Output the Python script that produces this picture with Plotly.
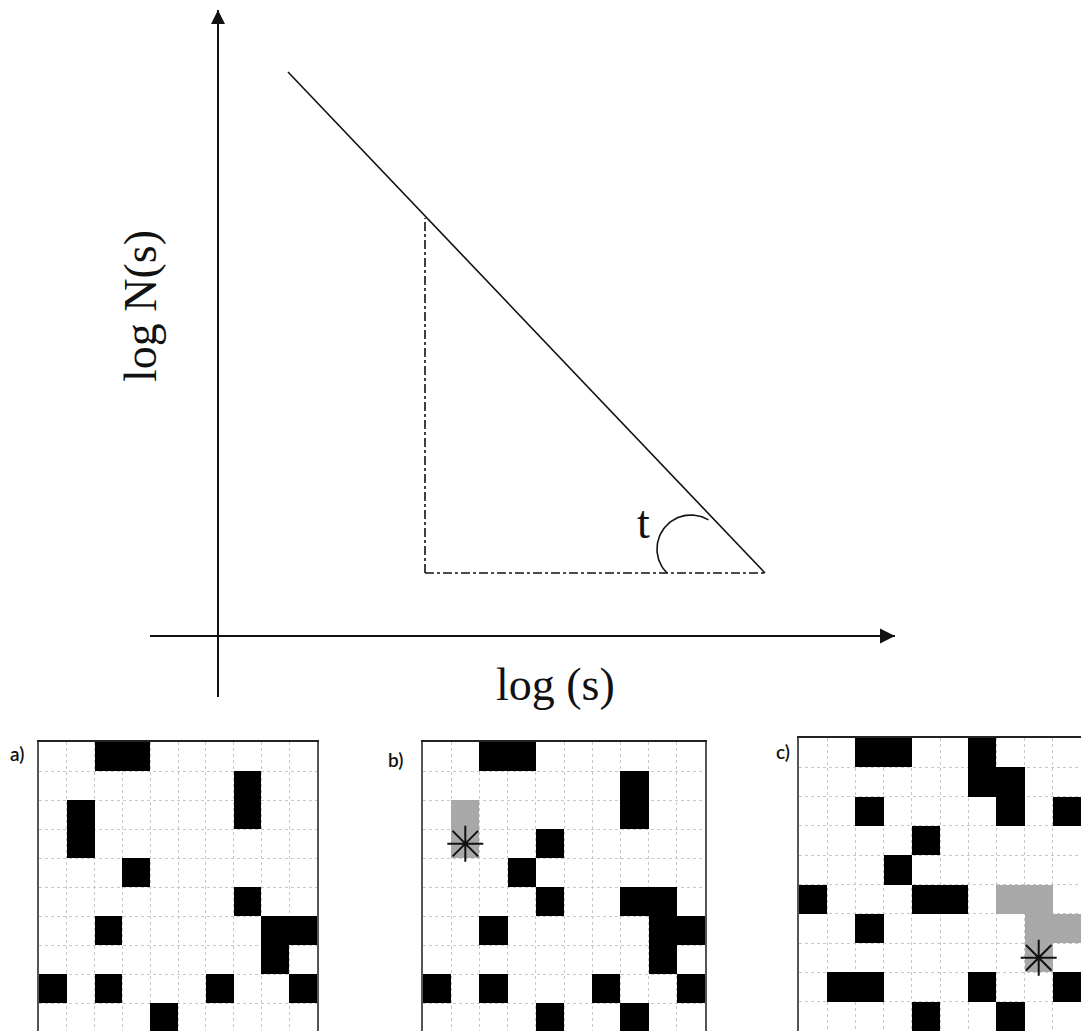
import numpy as np
import plotly.graph_objects as go

W, H = 1081, 1031

# ---------------- data: top schematic (log-log power law) ----------------
line_logs = [0.70, 5.47]          # log(s) end points of the fitted line
line_logN = [5.64, 0.63]          # log N(s) end points
tri_vert_logs = [2.07, 2.07]      # dash-dot vertical leg
tri_vert_logN = [0.63, 4.18]
tri_horz_logs = [2.07, 5.47]      # dash-dot horizontal leg
tri_horz_logN = [0.63, 0.63]
angle_center = (4.73, 0.87)       # angle arc "t"
angle_radius = 0.34
angle_from_deg, angle_to_deg = 59, 225

x_axis_label = "log (s)"
y_axis_label = "log N(s)"
angle_label = "t"

# ---------------- data: lattice grids ('#' occupied, '+' cluster, '.' empty) ----------------
grid_a = [
    "..##......",
    ".......#..",
    ".#.....#..",
    ".#........",
    "...#......",
    ".......#..",
    "..#.....##",
    "........#.",
    "#.#...#..#",
    "....#.....",
]
grid_b = [
    "..##......",
    ".......#..",
    ".+.....#..",
    ".+..#.....",
    "...#......",
    "....#..##.",
    "..#.....##",
    "........#.",
    "#.#...#..#",
    "....#..#..",
]
grid_c = [
    "..##..#...",
    "......##..",
    "..#....#.#",
    "....#.....",
    "...#......",
    "#...##.++.",
    "..#.....++",
    "........+.",
    ".##...#..#",
    "....#..#..",
]
grid_labels = ["a)", "b)", "c)"]
star_b = (3, 1)   # (row, col) of the seed asterisk
star_c = (7, 8)


def px_x(p):
    return p / W


def px_y(p):
    return 1 - p / H


def to_z(rows):
    m = {"#": 1, "+": 2, ".": None}
    return [[m[ch] for ch in r] for r in rows]


fig = go.Figure()

# ---- top schematic ----
fig.add_trace(go.Scatter(x=line_logs, y=line_logN, mode="lines",
                         line=dict(color="#111", width=1.6), xaxis="x", yaxis="y",
                         hoverinfo="skip"))
fig.add_trace(go.Scatter(x=tri_vert_logs, y=tri_vert_logN, mode="lines",
                         line=dict(color="#111", width=1.6, dash="dashdot"),
                         xaxis="x", yaxis="y", hoverinfo="skip"))
fig.add_trace(go.Scatter(x=tri_horz_logs, y=tri_horz_logN, mode="lines",
                         line=dict(color="#111", width=1.6, dash="dashdot"),
                         xaxis="x", yaxis="y", hoverinfo="skip"))
th = np.radians(np.linspace(angle_from_deg, angle_to_deg, 60))
fig.add_trace(go.Scatter(x=angle_center[0] + angle_radius * np.cos(th),
                         y=angle_center[1] + angle_radius * np.sin(th),
                         mode="lines", line=dict(color="#111", width=1.6),
                         xaxis="x", yaxis="y", hoverinfo="skip"))

# axis extents for the top plot (data units)
top_xr = [-0.68, 6.77]
top_yr = [-0.61, 6.26]
# arrow heads on the axes
fig.add_trace(go.Scatter(x=[0], y=[top_yr[1]], mode="markers",
                         marker=dict(symbol="arrow-up", size=14, color="#111"),
                         cliponaxis=False, xaxis="x", yaxis="y", hoverinfo="skip"))
fig.add_trace(go.Scatter(x=[top_xr[1]], y=[0], mode="markers",
                         marker=dict(symbol="arrow-right", size=15, color="#111"),
                         cliponaxis=False, xaxis="x", yaxis="y", hoverinfo="skip"))

# ---- lattice grids ----
grids = [grid_a, grid_b, grid_c]
colorscale = [[0, "#000000"], [0.5, "#000000"], [0.5, "#a8a8a8"], [1, "#a8a8a8"]]
for i, g in enumerate(grids):
    fig.add_trace(go.Heatmap(z=to_z(g), x=list(range(10)), y=list(range(10)),
                             colorscale=colorscale, zmin=1, zmax=2, showscale=False,
                             hoverinfo="skip", xaxis=f"x{i+2}", yaxis=f"y{i+2}"))

for (r, c), k in [(star_b, 3), (star_c, 4)]:
    fig.add_trace(go.Scatter(x=[c], y=[r], mode="markers",
                             marker=dict(symbol="asterisk-open", size=30, color="#111",
                                         line=dict(color="#111", width=2)),
                             xaxis=f"x{k}", yaxis=f"y{k}", hoverinfo="skip"))

layout = dict(
    width=W, height=H, margin=dict(l=0, r=0, t=0, b=0),
    paper_bgcolor="white", plot_bgcolor="white", showlegend=False,
    xaxis=dict(domain=[px_x(150), px_x(895)], range=top_xr, showgrid=False,
               showticklabels=False, ticks="", showline=False, zeroline=True,
               zerolinecolor="#111", zerolinewidth=2),
    yaxis=dict(domain=[px_y(697), px_y(10)], range=top_yr, showgrid=False,
               showticklabels=False, ticks="", showline=False, zeroline=True,
               zerolinecolor="#111", zerolinewidth=2),
)

grid_boxes = [  # left px, right px, top px, y-range bottom, right border
    (39, 317, 742, 9.45, True),
    (423, 705, 742, 9.45, True),
    (799, 1081, 738, 9.5, False),
]
for i, (l, r, t, yb, mir) in enumerate(grid_boxes):
    common = dict(showticklabels=False, ticks="", zeroline=False, showgrid=True,
                  tick0=0.5, dtick=1, gridcolor="#c8c8c8", gridwidth=1, griddash="dot")
    layout[f"xaxis{i+2}"] = dict(domain=[px_x(l), px_x(r)], range=[-0.5, 9.5],
                                 side="top", showline=True, linecolor="#222",
                                 linewidth=2, anchor=f"y{i+2}", **common)
    layout[f"yaxis{i+2}"] = dict(domain=[0, px_y(t)], range=[yb, -0.5],
                                 showline=True, mirror=mir, linecolor="#555",
                                 linewidth=2, anchor=f"x{i+2}", **common)

fig.update_layout(**layout)

serif = "Liberation Serif"
fig.add_annotation(x=px_x(555), y=px_y(684), xref="paper", yref="paper",
                   xanchor="center", yanchor="middle",
                   text=x_axis_label, showarrow=False,
                   font=dict(family=serif, size=46, color="#111"))
fig.add_annotation(x=px_x(140), y=px_y(306), xref="paper", yref="paper",
                   xanchor="center", yanchor="middle",
                   text=y_axis_label, showarrow=False, textangle=-90,
                   font=dict(family=serif, size=46, color="#111"))
fig.add_annotation(x=px_x(643), y=px_y(522), xref="paper", yref="paper",
                   xanchor="center", yanchor="middle",
                   text=angle_label, showarrow=False,
                   font=dict(family=serif, size=46, color="#111"))

for lab, (x, y) in zip(grid_labels, [(17, 753), (395, 759), (783, 751)]):
    fig.add_annotation(x=px_x(x), y=px_y(y), xref="paper", yref="paper",
                       xanchor="center", yanchor="middle",
                       text=lab, showarrow=False,
                       font=dict(family="Lato", size=19, color="#111", weight=600))

fig.write_html("out.html")
